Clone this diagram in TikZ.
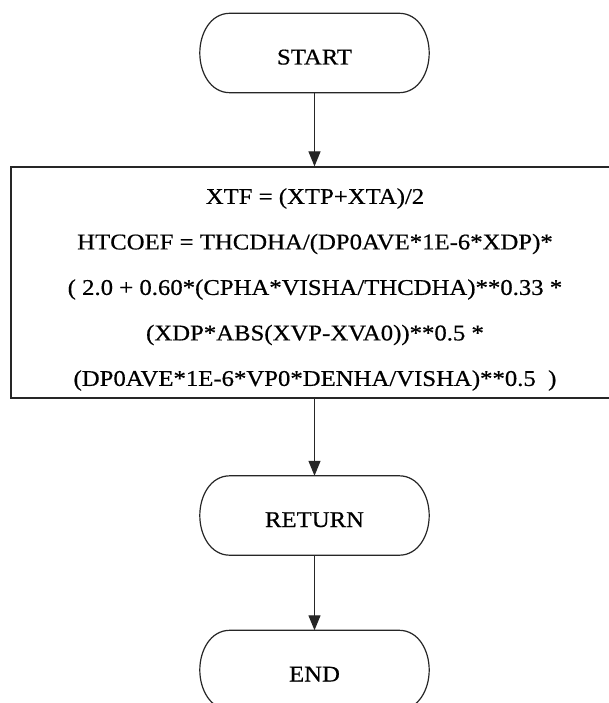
\documentclass[tikz,border=0pt]{standalone}
\usepackage{fontspec}
\setmainfont{Liberation Serif}[FakeStretch=1.1,FakeBold=0.5]
\usetikzlibrary{arrows.meta}
\tikzset{
  line/.style={line width=1.2pt, draw=black!85},
  term/.style={minimum width=229pt, minimum height=79pt, inner sep=0pt, text height=23pt, text depth=0pt, font=\fontsize{22.5}{26}\selectfont},
  procbox/.style={line, draw, minimum width=604pt, minimum height=231pt, inner sep=0pt},
  bodytext/.style={align=center, inner sep=0pt, font=\fontsize{22.5}{45.5}\selectfont},
  flow/.style={line, -{Triangle[width=12pt,length=15pt]}}
}
\newcommand\termoutline[1]{%
  \draw[line] ([xshift=30pt]#1.north west) -- ([xshift=-30pt]#1.north east)
    to[out=0,in=90] (#1.east) to[out=-90,in=0] ([xshift=-30pt]#1.south east)
    -- ([xshift=30pt]#1.south west) to[out=180,in=-90] (#1.west)
    to[out=90,in=180] cycle;}
\begin{document}
\begin{tikzpicture}[x=1pt,y=1pt]
\useasboundingbox (0,-703) rectangle (609,0);
\node[term] (start) at (314.5,-53) {START};
\termoutline{start}
\node[procbox] (proc) at (313,-282.5) {};
\node[bodytext] (body) at (315,-289.5) {XTF = (XTP+XTA)/2\\
HTCOEF = THCDHA/(DP0AVE*1E-6*XDP)*\\
( 2.0 + 0.60*(CPHA*VISHA/THCDHA)**0.33 *\\
(XDP*ABS(XVP-XVA0))**0.5 *\\
(DP0AVE*1E-6*VP0*DENHA/VISHA)**0.5\ \ )};
\node[term] (ret) at (314.5,-515.5) {RETURN};
\termoutline{ret}
\node[term] (end) at (314.5,-670) {END};
\termoutline{end}
\draw[flow] (start.south) -- (start.south |- proc.north);
\draw[flow] (start.south |- proc.south) -- (ret.north);
\draw[flow] (ret.south) -- (end.north);
\end{tikzpicture}
\end{document}
